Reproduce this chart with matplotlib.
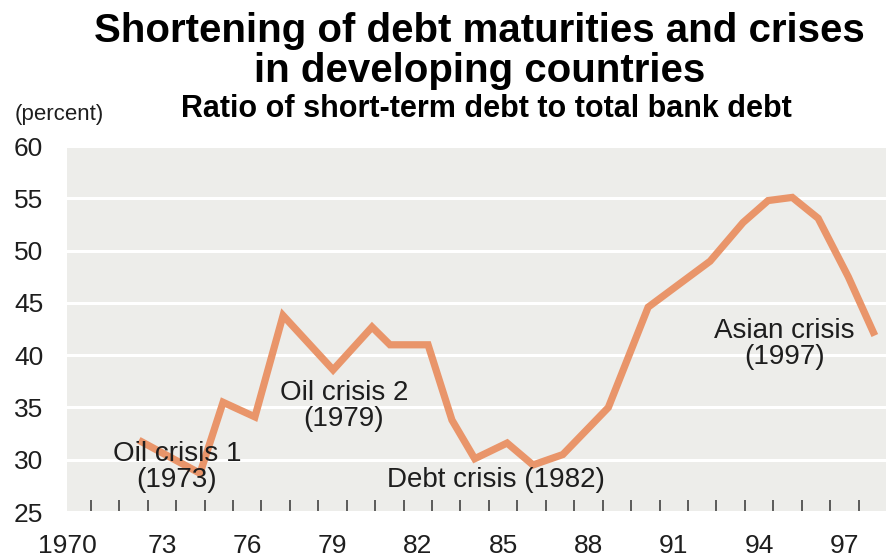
import matplotlib
matplotlib.use("Agg")
import matplotlib.pyplot as plt
from matplotlib.ticker import FixedLocator

years = [1972.3, 1974.34, 1975.15, 1976.27, 1977.26, 1979.02, 1980.39, 1981.02,
         1982.36, 1983.2, 1984.0, 1985.14, 1986.05, 1987.1, 1988.7, 1990.1,
         1992.28, 1993.44, 1994.32, 1995.17, 1996.08, 1997.14, 1998.02]
ratio = [31.7, 28.7, 35.5, 34.1, 43.8, 38.6, 42.7, 41.0,
         41.0, 33.8, 30.1, 31.6, 29.5, 30.5, 35.0, 44.6,
         49.0, 52.7, 54.8, 55.1, 53.1, 47.5, 42.2]

year_labels = ["1970", "73", "76", "79", "82", "85", "88", "91", "94", "97"]
label_years = [1969.66, 1973, 1976, 1979, 1982, 1985, 1988, 1991, 1994, 1997]
tick_years = [y + 0.5 for y in range(1970, 1998)]
y_ticks = [25, 30, 35, 40, 45, 50, 55, 60]

# crisis notes: text, x, y
crises = [
    ("Oil crisis 1\n(1973)", 1973.53, 29.3),
    ("Oil crisis 2\n(1979)", 1979.4, 35.1),
    ("Debt crisis (1982)", 1984.75, 28.1),
    ("Asian crisis\n(1997)", 1994.9, 41.1),
]

LINE = "#E9956A"
PANEL = "#EDEDEA"
INK = "#1E1E1E"

plt.rcParams["font.family"] = ["Liberation Sans", "DejaVu Sans"]
title_font = ["Liberation Sans Narrow", "DejaVu Sans Condensed", "Liberation Sans"]

fig = plt.figure(figsize=(8.87, 5.58), dpi=100)
ax = fig.add_axes([0.0755, 0.0824, 0.9235, 0.6556])
ax.set_facecolor(PANEL)

ax.plot(years, ratio, color=LINE, lw=5.2, solid_joinstyle="miter", zorder=3)

for text, x, y in crises:
    ax.text(x, y, text, ha="center", va="center", fontsize=20, color=INK,
            linespacing=1.0, zorder=4)

ax.set_xlim(1969.66, 1998.47)
ax.set_ylim(25, 60)

ax.xaxis.set_major_locator(FixedLocator(label_years))
ax.set_xticklabels(year_labels)
ax.xaxis.set_minor_locator(FixedLocator(tick_years))
ax.tick_params(axis="x", which="major", length=0, pad=16, labelsize=19, labelcolor=INK)
ax.tick_params(axis="x", which="minor", direction="in", length=8.5, width=1.1, color="#333333")

ax.set_yticks(y_ticks)
ax.tick_params(axis="y", length=0, pad=17, labelsize=19, labelcolor=INK)
ax.yaxis.grid(True, color="white", lw=2.2)
ax.set_axisbelow(True)

for side in ax.spines.values():
    side.set_visible(False)

fig.text(0.541, 0.9247, "Shortening of debt maturities and crises", ha="center",
         va="baseline", fontsize=29, fontweight="bold", family=title_font)
fig.text(0.541, 0.853, "in developing countries", ha="center",
         va="baseline", fontsize=29, fontweight="bold", family=title_font)
fig.text(0.548, 0.790, "Ratio of short-term debt to total bank debt", ha="center",
         va="baseline", fontsize=22, fontweight="bold", family=title_font)
fig.text(0.017, 0.785, "(percent)", ha="left", va="baseline", fontsize=16, color=INK)

fig.savefig("out.png", dpi=100)
